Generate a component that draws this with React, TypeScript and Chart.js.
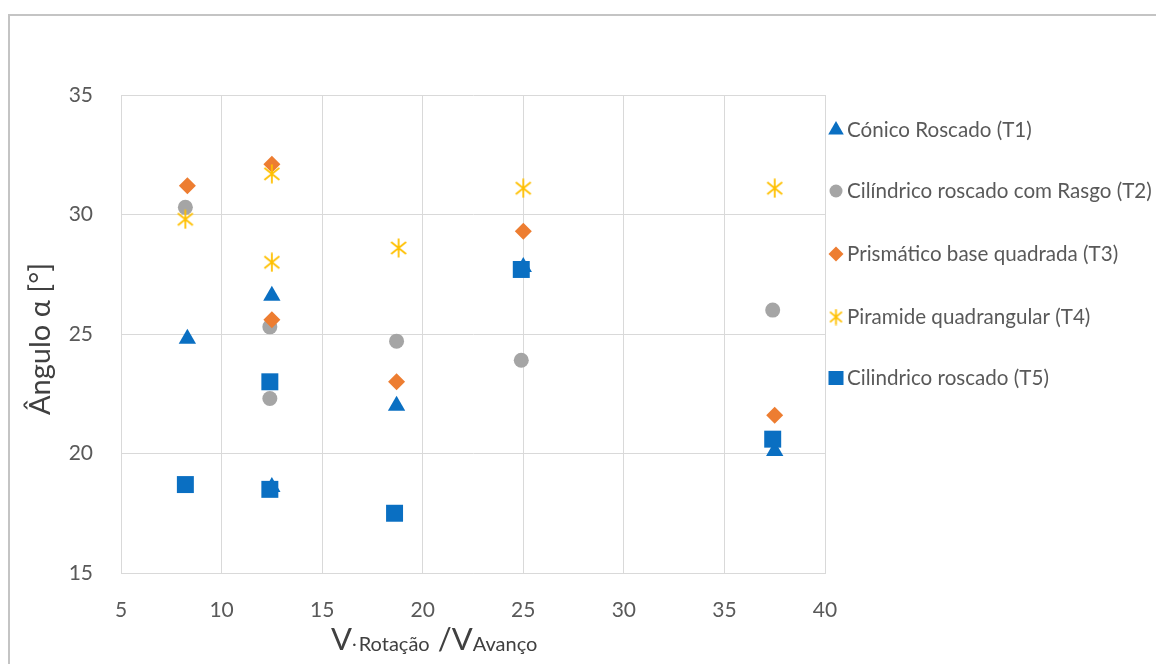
import React, { useEffect, useRef } from "react";
import { Chart, registerables } from "chart.js";

Chart.register(...registerables);

// ---- data ----
const seriesNames = [
  "Cónico Roscado (T1)",
  "Cilíndrico roscado com Rasgo (T2)",
  "Prismático base quadrada (T3)",
  "Piramide quadrangular (T4)",
  "Cilindrico roscado (T5)",
];

const t1X = [8.3, 12.5, 12.5, 18.7, 25.0, 37.5];
const t1Y = [24.8, 26.6, 18.6, 22.0, 27.8, 20.1];

const t2X = [8.2, 12.4, 12.4, 18.7, 24.9, 37.4];
const t2Y = [30.3, 25.3, 22.3, 24.7, 23.9, 26.0];

const t3X = [8.3, 12.5, 12.5, 18.7, 25.0, 37.5];
const t3Y = [31.2, 32.1, 25.6, 23.0, 29.3, 21.6];

const t4X = [8.2, 12.5, 12.5, 18.8, 25.0, 37.5];
const t4Y = [29.8, 31.7, 28.0, 28.6, 31.1, 31.1];

const t5X = [8.2, 12.4, 12.4, 18.6, 24.9, 37.4];
const t5Y = [18.7, 23.0, 18.5, 17.5, 27.7, 20.6];

const xTickValues = [5, 10, 15, 20, 25, 30, 35, 40];
const yTickValues = [15, 20, 25, 30, 35];

const yTitle = "Ângulo α [°]";
const xTitleParts = [
  { text: "V", sub: false },
  { text: ".", sub: true },
  { text: "Rotação", sub: true },
  { text: " /V", sub: false },
  { text: "Avanço", sub: true },
];

// ---- styles ----
const BLUE = "#0a6fc2";
const GRAY = "#a5a5a5";
const ORANGE = "#ed7d31";
const YELLOW = "#ffc000";
const FONT = "Lato, 'Noto Sans', sans-serif";

function makeAsterisk(scale = 1): HTMLCanvasElement {
  const w = Math.round(18 * scale);
  const h = Math.round(20 * scale);
  const c = document.createElement("canvas");
  c.width = w;
  c.height = h;
  const g = c.getContext("2d")!;
  g.strokeStyle = YELLOW;
  g.lineWidth = 1.8;
  g.lineCap = "butt";
  g.beginPath();
  g.moveTo(w / 2, 0.5);
  g.lineTo(w / 2, h - 0.5);
  g.moveTo(1.5, h * 0.2);
  g.lineTo(w - 1.5, h * 0.8);
  g.moveTo(w - 1.5, h * 0.2);
  g.lineTo(1.5, h * 0.8);
  g.stroke();
  return c;
}

function pts(xs: number[], ys: number[]) {
  return xs.map((x, i) => ({ x, y: ys[i] }));
}

function drawMarker(ctx: CanvasRenderingContext2D, kind: number, x: number, y: number, star: HTMLCanvasElement) {
  ctx.save();
  ctx.beginPath();
  if (kind === 0) {
    const r = 9;
    ctx.fillStyle = BLUE;
    ctx.moveTo(x, y - r);
    ctx.lineTo(x + r * 0.866, y + r * 0.5);
    ctx.lineTo(x - r * 0.866, y + r * 0.5);
    ctx.closePath();
    ctx.fill();
  } else if (kind === 1) {
    ctx.fillStyle = GRAY;
    ctx.arc(x, y, 6.5, 0, Math.PI * 2);
    ctx.fill();
  } else if (kind === 2) {
    const r = 7.5;
    ctx.fillStyle = ORANGE;
    ctx.moveTo(x, y - r);
    ctx.lineTo(x + r, y);
    ctx.lineTo(x, y + r);
    ctx.lineTo(x - r, y);
    ctx.closePath();
    ctx.fill();
  } else if (kind === 3) {
    ctx.drawImage(star, x - star.width / 2, y - star.height / 2);
  } else {
    ctx.fillStyle = BLUE;
    ctx.fillRect(x - 7.5, y - 7, 15, 14);
  }
  ctx.restore();
}

export default function App() {
  const ref = useRef<HTMLCanvasElement | null>(null);

  useEffect(() => {
    const canvas = ref.current;
    if (!canvas) return;
    const star = makeAsterisk(1);
    const legendStar = makeAsterisk(0.85);

    const overlay = {
      id: "overlay",
      afterDraw(chart: any) {
        const { ctx, chartArea } = chart;
        ctx.save();
        // legend
        const offsets = [35, 96, 159, 222, 283];
        ctx.textAlign = "left";
        ctx.textBaseline = "middle";
        seriesNames.forEach((name, i) => {
          const y = chartArea.top + offsets[i];
          drawMarker(ctx, i, chartArea.right + 11, y, legendStar);
          ctx.fillStyle = "#595959";
          ctx.font = `20.6px ${FONT}`;
          ctx.fillText(name, chartArea.right + 22, y);
        });
        // y title
        ctx.save();
        ctx.translate(chartArea.left - 80, (chartArea.top + chartArea.bottom) / 2 + 5);
        ctx.rotate(-Math.PI / 2);
        ctx.font = `29px ${FONT}`;
        ctx.fillStyle = "#404040";
        ctx.textAlign = "center";
        ctx.textBaseline = "middle";
        ctx.fillText(yTitle, 0, 0);
        ctx.restore();
        // x title
        let x = chartArea.left + 210;
        const base = chartArea.bottom + 77;
        ctx.textAlign = "left";
        ctx.textBaseline = "alphabetic";
        ctx.fillStyle = "#404040";
        xTitleParts.forEach((p) => {
          ctx.font = p.sub ? `20px ${FONT}` : `31px ${FONT}`;
          const dy = p.text === "." ? -4 : p.sub ? 1 : 0;
          ctx.fillText(p.text, x, base + dy);
          x += ctx.measureText(p.text).width + (p.text === "." ? 2 : 0);
        });
        ctx.restore();
      },
    };

    const chart = new Chart(canvas, {
      type: "scatter",
      data: {
        datasets: [
          {
            label: seriesNames[0],
            data: pts(t1X, t1Y),
            pointStyle: "triangle",
            pointRadius: 10,
            pointBackgroundColor: BLUE,
            pointBorderWidth: 0,
            order: 5,
          },
          {
            label: seriesNames[1],
            data: pts(t2X, t2Y),
            pointStyle: "circle",
            pointRadius: 7.5,
            pointBackgroundColor: GRAY,
            pointBorderWidth: 0,
            order: 4,
          },
          {
            label: seriesNames[2],
            data: pts(t3X, t3Y),
            pointStyle: "rectRot",
            pointRadius: 8.5,
            pointBackgroundColor: ORANGE,
            pointBorderWidth: 0,
            order: 3,
          },
          {
            label: seriesNames[3],
            data: pts(t4X, t4Y),
            pointStyle: star as any,
            pointRadius: 9,
            pointBackgroundColor: YELLOW,
            pointBorderWidth: 0,
            order: 2,
          },
          {
            label: seriesNames[4],
            data: pts(t5X, t5Y),
            pointStyle: "rect",
            pointRadius: 12,
            pointBackgroundColor: BLUE,
            pointBorderWidth: 0,
            order: 1,
          },
        ],
      },
      options: {
        responsive: false,
        animation: false,
        layout: { padding: { left: 0, top: 79, right: 331, bottom: 0 } },
        plugins: {
          legend: { display: false },
          tooltip: { enabled: false },
        },
        scales: {
          x: {
            type: "linear",
            min: xTickValues[0],
            max: xTickValues[xTickValues.length - 1],
            ticks: {
              stepSize: xTickValues[1] - xTickValues[0],
              padding: 25,
              color: "#595959",
              font: { family: FONT, size: 21 },
            },
            grid: { color: "#d9d9d9", lineWidth: 1, drawTicks: false },
            border: { color: "#d9d9d9", width: 1 },
            afterFit: (s: any) => {
              s.height = 91;
            },
          },
          y: {
            type: "linear",
            min: yTickValues[0],
            max: yTickValues[yTickValues.length - 1],
            ticks: {
              stepSize: yTickValues[1] - yTickValues[0],
              padding: 28,
              color: "#595959",
              font: { family: FONT, size: 21 },
            },
            grid: { color: "#d9d9d9", lineWidth: 1, drawTicks: false },
            border: { color: "#d9d9d9", width: 1 },
            afterFit: (s: any) => {
              s.width = 111;
            },
          },
        },
      },
      plugins: [overlay],
    });
    return () => chart.destroy();
  }, []);

  return (
    <div
      style={{
        position: "fixed",
        left: 8,
        top: 14,
        width: 1148,
        height: 650,
        overflow: "hidden",
        borderLeft: "2px solid #c4c4c4",
        borderTop: "2px solid #c4c4c4",
        background: "#fff",
        boxSizing: "border-box",
      }}
    >
      <canvas ref={ref} width={1146} height={648} style={{ display: "block" }} />
    </div>
  );
}
